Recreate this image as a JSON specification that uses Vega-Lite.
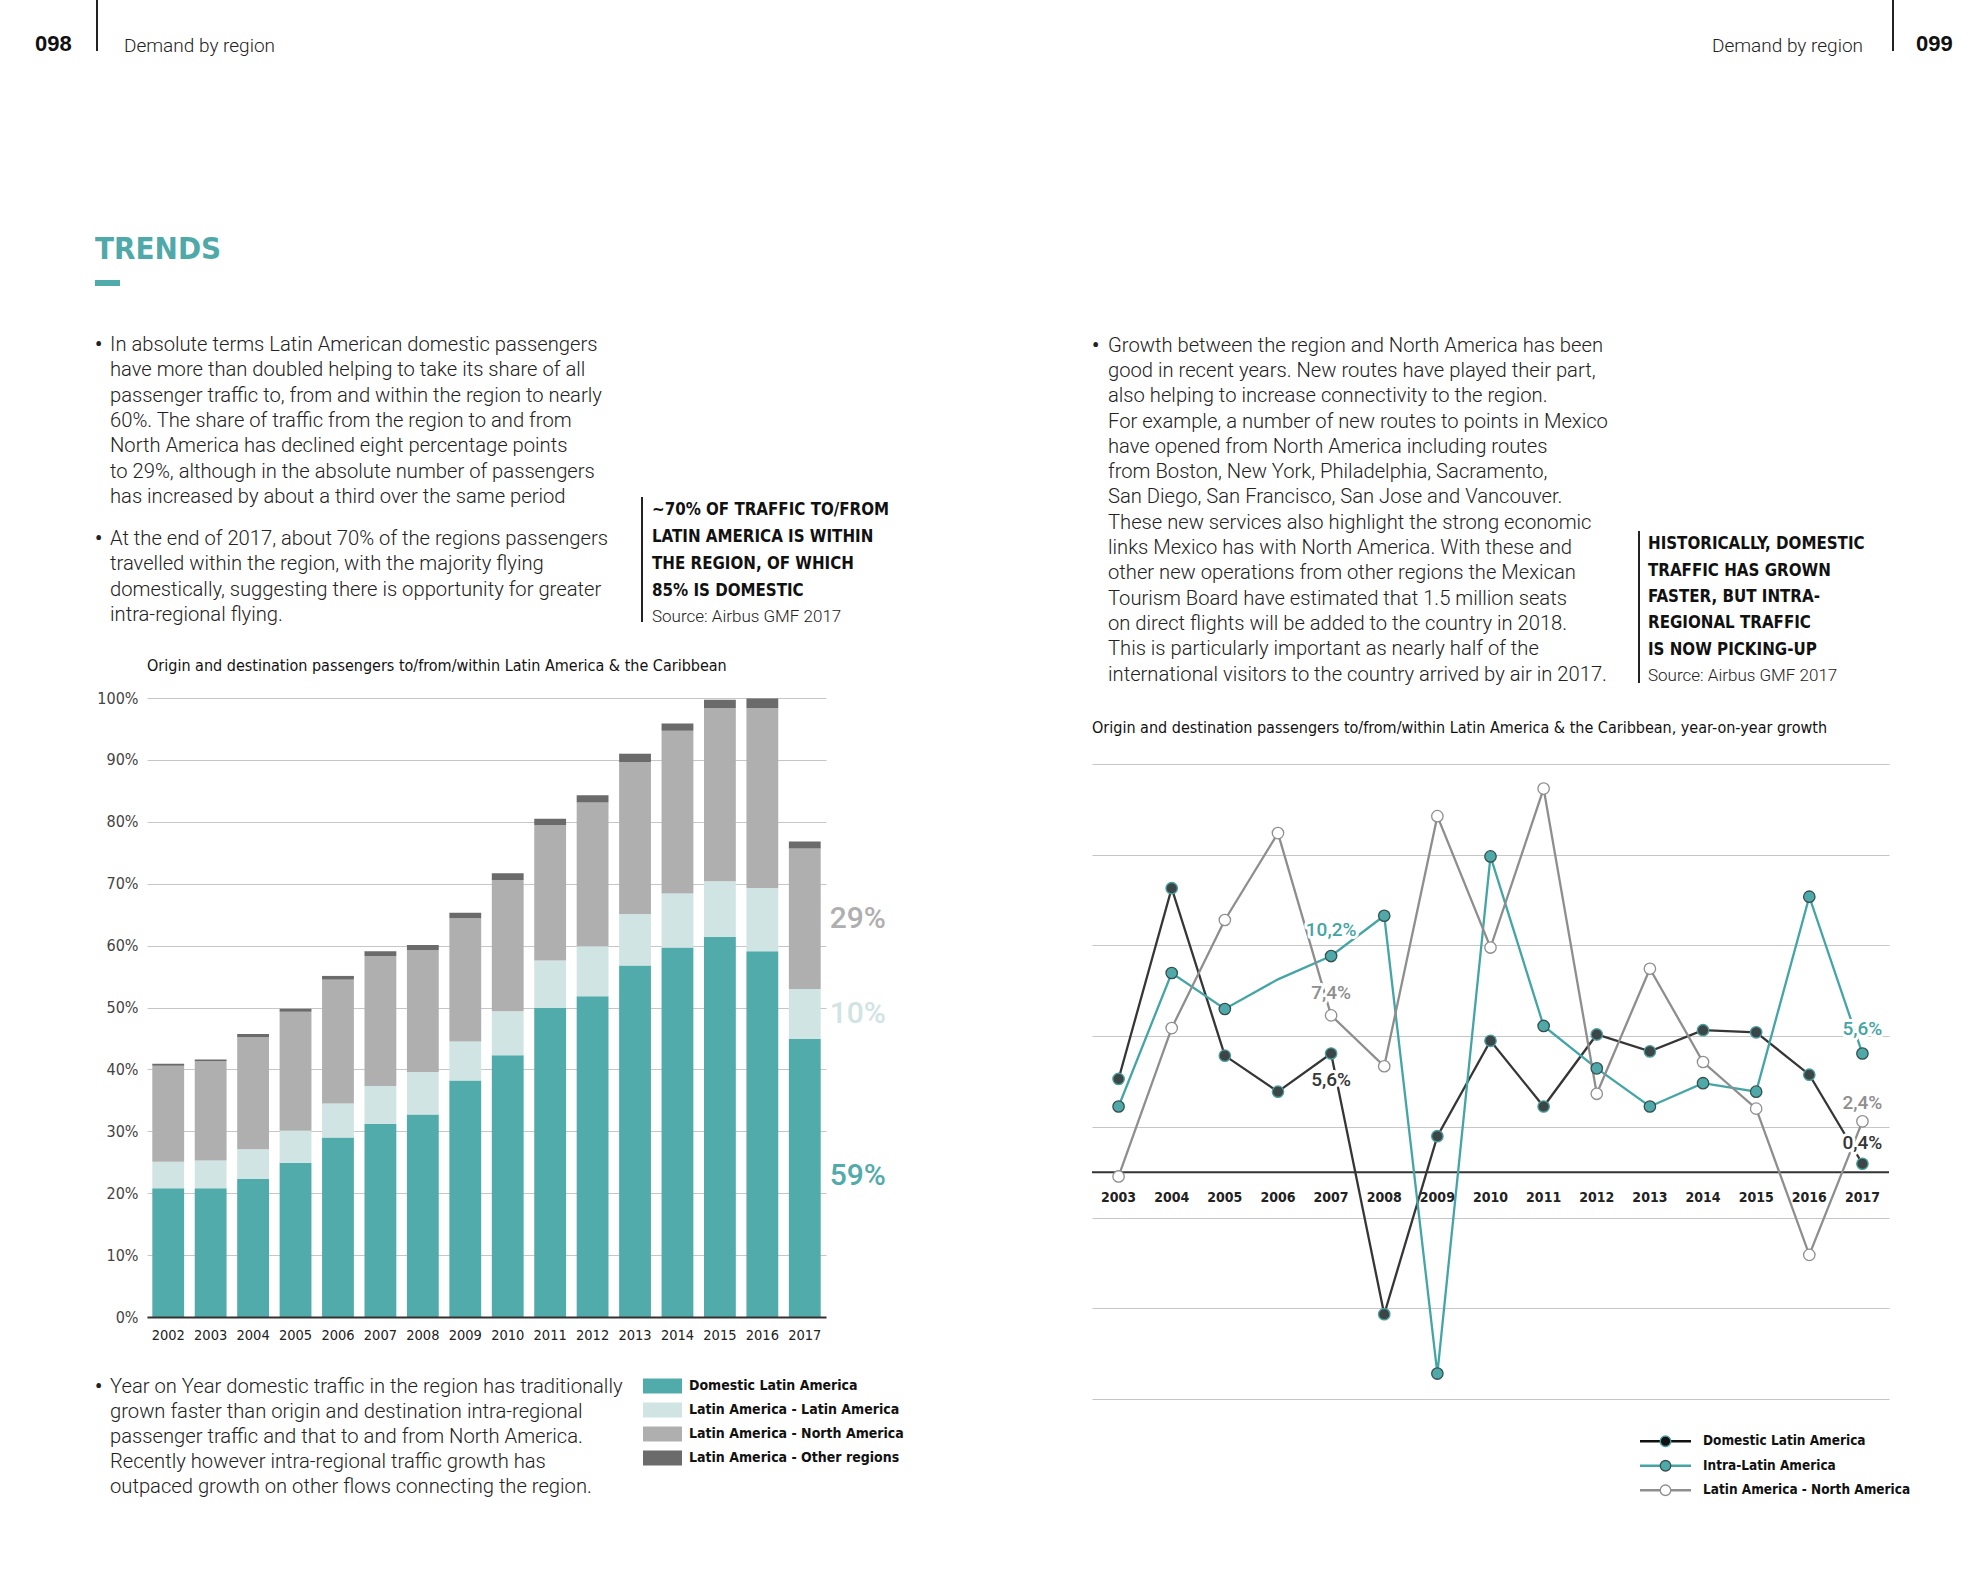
{
"$schema":"https://vega.github.io/schema/vega-lite/v6.json",
"padding":{"left":25,"top":0,"right":0,"bottom":0},
"background":"white",
"config":{"view":{"stroke":null},"concat":{"spacing":0}},
"spacing":0,
"resolve":{"scale":{"color":"independent"}},
"vconcat":[
 {"hconcat":[
   {"width":10,"height":1,"data":{"values":[{}]},"mark":{"type":"rect","opacity":0},"encoding":{}},
   {"width":61,"height":88,"data":{"values":[{"t":"098"}]},"mark":{"type":"text","align":"left","baseline":"middle","font":"Liberation Sans, sans-serif","fontWeight":"bold","fontSize":22,"color":"#111"},"encoding":{"x":{"datum":0,"type":"quantitative","scale":{"domain":[0,1]},"axis":null},"text":{"field":"t"}}},
   {"width":2,"height":51,"data":{"values":[{}]},"mark":{"type":"rect","color":"#222"},"encoding":{}},
   {"width":26,"height":1,"data":{"values":[{}]},"mark":{"type":"rect","opacity":0},"encoding":{}},
   {"width":1739,"height":92,"layer":[
     {"data":{"values":[{"t":"Demand by region"}]},"mark":{"type":"text","align":"left","baseline":"middle","font":"Roboto, sans-serif","fontWeight":300,"fontSize":19,"color":"#222"},"encoding":{"x":{"datum":0,"type":"quantitative","scale":{"domain":[0,1]},"axis":null},"text":{"field":"t"}}},
     {"data":{"values":[{"t":"Demand by region"}]},"mark":{"type":"text","align":"right","baseline":"middle","font":"Roboto, sans-serif","fontWeight":300,"fontSize":19,"color":"#222"},"encoding":{"x":{"datum":1,"type":"quantitative","scale":{"domain":[0,1]},"axis":null},"text":{"field":"t"}}}
   ]},
   {"width":29,"height":1,"data":{"values":[{}]},"mark":{"type":"rect","opacity":0},"encoding":{}},
   {"width":2,"height":51,"data":{"values":[{}]},"mark":{"type":"rect","color":"#222"},"encoding":{}},
   {"width":22,"height":1,"data":{"values":[{}]},"mark":{"type":"rect","opacity":0},"encoding":{}},
   {"width":50,"height":88,"data":{"values":[{"t":"099"}]},"mark":{"type":"text","align":"left","baseline":"middle","font":"Liberation Sans, sans-serif","fontWeight":"bold","fontSize":22,"color":"#111"},"encoding":{"x":{"datum":0,"type":"quantitative","scale":{"domain":[0,1]},"axis":null},"text":{"field":"t"}}}
 ],"spacing":0},
 {"resolve":{"scale":{"color":"independent"}},
  "hconcat":[
   {"width":70,"height":1,"data":{"values":[{}]},"mark":{"type":"rect","opacity":0},"encoding":{}},
   {"resolve":{"scale":{"color":"independent"}},
    "vconcat":[
     {"width":996,"height":133,"data":{"values":[{}]},"mark":{"type":"rect","opacity":0},"encoding":{}},
     {"width":200,"height":50,"data":{"values":[{"t":"TRENDS"}]},"mark":{"type":"text","align":"left","baseline":"middle","font":"Liberation Sans Narrow, DejaVu Sans Condensed, sans-serif","fontWeight":"bold","fontSize":31,"color":"#4FA9A9"},"encoding":{"x":{"datum":0,"type":"quantitative","scale":{"domain":[0,1]},"axis":null},"text":{"field":"t"}}},
     {"width":1,"height":5,"data":{"values":[{}]},"mark":{"type":"rect","opacity":0},"encoding":{}},
     {"width":25,"height":6,"data":{"values":[{}]},"mark":{"type":"rect","color":"#52ABAB"},"encoding":{}},
     {"width":1,"height":46,"data":{"values":[{}]},"mark":{"type":"rect","opacity":0},"encoding":{}},
     {"hconcat":[
       {"vconcat":[
         {"hconcat":[
           {"width":15,"height":25.4,"data":{"values":[{"t":"•"}]},"mark":{"type":"text","align":"left","baseline":"middle","font":"Roboto, sans-serif","fontWeight":"bold","fontSize":20,"color":"#222"},"encoding":{"x":{"datum":0,"type":"quantitative","scale":{"domain":[0,1]},"axis":null},"text":{"field":"t"}}},
           {"width":531,"height":{"step":25.4},"data":{"values":[
             {"i":0,"t":"In absolute terms Latin American domestic passengers"},
             {"i":1,"t":"have more than doubled helping to take its share of all"},
             {"i":2,"t":"passenger traffic to, from and within the region to nearly"},
             {"i":3,"t":"60%. The share of traffic from the region to and from"},
             {"i":4,"t":"North America has declined eight percentage points"},
             {"i":5,"t":"to 29%, although in the absolute number of passengers"},
             {"i":6,"t":"has increased by about a third over the same period"}]},
            "mark":{"type":"text","align":"left","baseline":"middle","font":"Roboto, sans-serif","fontWeight":300,"fontSize":20.2,"color":"#222"},
            "encoding":{"y":{"field":"i","type":"ordinal","axis":null},"x":{"datum":0,"type":"quantitative","scale":{"domain":[0,1]},"axis":null},"text":{"field":"t"}}}
         ],"spacing":0},
         {"width":1,"height":15.3,"data":{"values":[{}]},"mark":{"type":"rect","opacity":0},"encoding":{}},
         {"hconcat":[
           {"width":15,"height":25.4,"data":{"values":[{"t":"•"}]},"mark":{"type":"text","align":"left","baseline":"middle","font":"Roboto, sans-serif","fontWeight":"bold","fontSize":20,"color":"#222"},"encoding":{"x":{"datum":0,"type":"quantitative","scale":{"domain":[0,1]},"axis":null},"text":{"field":"t"}}},
           {"width":531,"height":{"step":25.4},"data":{"values":[
             {"i":0,"t":"At the end of 2017, about 70% of the regions passengers"},
             {"i":1,"t":"travelled within the region, with the majority flying"},
             {"i":2,"t":"domestically, suggesting there is opportunity for greater"},
             {"i":3,"t":"intra-regional flying."}]},
            "mark":{"type":"text","align":"left","baseline":"middle","font":"Roboto, sans-serif","fontWeight":300,"fontSize":20.2,"color":"#222"},
            "encoding":{"y":{"field":"i","type":"ordinal","axis":null},"x":{"datum":0,"type":"quantitative","scale":{"domain":[0,1]},"axis":null},"text":{"field":"t"}}}
         ],"spacing":0}
       ],"spacing":0},
       {"vconcat":[
         {"width":1,"height":164.6,"data":{"values":[{}]},"mark":{"type":"rect","opacity":0},"encoding":{}},
         {"hconcat":[
           {"width":2,"height":125,"data":{"values":[{}]},"mark":{"type":"rect","color":"#222"},"encoding":{}},
           {"width":250,"height":{"step":26.75},"layer":[
             {"data":{"values":[{"i":0,"t":"~70% OF TRAFFIC TO/FROM"},{"i":1,"t":"LATIN AMERICA IS WITHIN"},{"i":2,"t":"THE REGION, OF WHICH"},{"i":3,"t":"85% IS DOMESTIC"}]},
              "mark":{"type":"text","align":"left","baseline":"middle","font":"Liberation Sans Narrow, DejaVu Sans Condensed, sans-serif","fontWeight":"bold","fontSize":16.8,"color":"#111"},
              "encoding":{"y":{"field":"i","type":"ordinal","axis":null},"x":{"datum":0,"type":"quantitative","scale":{"domain":[0,1]},"axis":null},"text":{"field":"t"}}},
             {"data":{"values":[{"i":4,"t":"Source: Airbus GMF 2017"}]},
              "mark":{"type":"text","align":"left","baseline":"middle","font":"Roboto, sans-serif","fontWeight":300,"fontSize":17,"color":"#222"},
              "encoding":{"y":{"field":"i","type":"ordinal","axis":null},"x":{"datum":0,"type":"quantitative","scale":{"domain":[0,1]},"axis":null},"text":{"field":"t"}}}
           ]}
         ],"spacing":9}
       ],"spacing":0}
     ],"spacing":0},
     {"width":1,"height":27,"data":{"values":[{}]},"mark":{"type":"rect","opacity":0},"encoding":{}},
     {"hconcat":[
       {"width":1,"height":1,"data":{"values":[{}]},"mark":{"type":"rect","opacity":0},"encoding":{}},
       {"width":679,"height":619,
        "title":{"text":"Origin and destination passengers to/from/within Latin America & the Caribbean","anchor":"start","frame":"group","font":"Liberation Sans Narrow, DejaVu Sans Condensed, sans-serif","fontSize":16,"fontWeight":"normal","color":"#111","offset":16},
        "layer":[
         {"data":{"values":[
           {"year":"2002","cat":"Domestic Latin America","value":20.8},{"year":"2002","cat":"Latin America - Latin America","value":4.3},{"year":"2002","cat":"Latin America - North America","value":15.5},{"year":"2002","cat":"Latin America - Other regions","value":0.3},
           {"year":"2003","cat":"Domestic Latin America","value":20.8},{"year":"2003","cat":"Latin America - Latin America","value":4.5},{"year":"2003","cat":"Latin America - North America","value":16.0},{"year":"2003","cat":"Latin America - Other regions","value":0.3},
           {"year":"2004","cat":"Domestic Latin America","value":22.3},{"year":"2004","cat":"Latin America - Latin America","value":4.8},{"year":"2004","cat":"Latin America - North America","value":18.1},{"year":"2004","cat":"Latin America - Other regions","value":0.5},
           {"year":"2005","cat":"Domestic Latin America","value":24.9},{"year":"2005","cat":"Latin America - Latin America","value":5.2},{"year":"2005","cat":"Latin America - North America","value":19.2},{"year":"2005","cat":"Latin America - Other regions","value":0.5},
           {"year":"2006","cat":"Domestic Latin America","value":29.0},{"year":"2006","cat":"Latin America - Latin America","value":5.5},{"year":"2006","cat":"Latin America - North America","value":20.0},{"year":"2006","cat":"Latin America - Other regions","value":0.6},
           {"year":"2007","cat":"Domestic Latin America","value":31.2},{"year":"2007","cat":"Latin America - Latin America","value":6.1},{"year":"2007","cat":"Latin America - North America","value":21.0},{"year":"2007","cat":"Latin America - Other regions","value":0.8},
           {"year":"2008","cat":"Domestic Latin America","value":32.7},{"year":"2008","cat":"Latin America - Latin America","value":6.9},{"year":"2008","cat":"Latin America - North America","value":19.7},{"year":"2008","cat":"Latin America - Other regions","value":0.8},
           {"year":"2009","cat":"Domestic Latin America","value":38.2},{"year":"2009","cat":"Latin America - Latin America","value":6.3},{"year":"2009","cat":"Latin America - North America","value":19.9},{"year":"2009","cat":"Latin America - Other regions","value":0.9},
           {"year":"2010","cat":"Domestic Latin America","value":42.3},{"year":"2010","cat":"Latin America - Latin America","value":7.1},{"year":"2010","cat":"Latin America - North America","value":21.2},{"year":"2010","cat":"Latin America - Other regions","value":1.1},
           {"year":"2011","cat":"Domestic Latin America","value":49.9},{"year":"2011","cat":"Latin America - Latin America","value":7.7},{"year":"2011","cat":"Latin America - North America","value":21.9},{"year":"2011","cat":"Latin America - Other regions","value":1.0},
           {"year":"2012","cat":"Domestic Latin America","value":51.8},{"year":"2012","cat":"Latin America - Latin America","value":8.1},{"year":"2012","cat":"Latin America - North America","value":23.2},{"year":"2012","cat":"Latin America - Other regions","value":1.2},
           {"year":"2013","cat":"Domestic Latin America","value":56.8},{"year":"2013","cat":"Latin America - Latin America","value":8.3},{"year":"2013","cat":"Latin America - North America","value":24.5},{"year":"2013","cat":"Latin America - Other regions","value":1.4},
           {"year":"2014","cat":"Domestic Latin America","value":59.7},{"year":"2014","cat":"Latin America - Latin America","value":8.7},{"year":"2014","cat":"Latin America - North America","value":26.3},{"year":"2014","cat":"Latin America - Other regions","value":1.2},
           {"year":"2015","cat":"Domestic Latin America","value":61.4},{"year":"2015","cat":"Latin America - Latin America","value":9.0},{"year":"2015","cat":"Latin America - North America","value":28.0},{"year":"2015","cat":"Latin America - Other regions","value":1.3},
           {"year":"2016","cat":"Domestic Latin America","value":59.1},{"year":"2016","cat":"Latin America - Latin America","value":10.2},{"year":"2016","cat":"Latin America - North America","value":29.1},{"year":"2016","cat":"Latin America - Other regions","value":1.5},
           {"year":"2017","cat":"Domestic Latin America","value":44.9},{"year":"2017","cat":"Latin America - Latin America","value":8.1},{"year":"2017","cat":"Latin America - North America","value":22.7},{"year":"2017","cat":"Latin America - Other regions","value":1.1}
          ]},
          "mark":{"type":"bar"},
          "encoding":{
           "x":{"field":"year","type":"ordinal","title":null,"scale":{"paddingInner":0.25,"paddingOuter":0.125},"axis":{"labelAngle":0,"labelFont":"Liberation Sans Narrow, DejaVu Sans Condensed, sans-serif","labelFontSize":14.5,"labelColor":"#222","labelPadding":11,"ticks":false,"domainColor":"#333","domainWidth":2,"zindex":1}},
           "y":{"field":"value","type":"quantitative","stack":"zero","title":null,"scale":{"domain":[0,100],"nice":false},"axis":{"values":[0,10,20,30,40,50,60,70,80,90,100],"labelExpr":"datum.value + '%'","labelFont":"Liberation Sans Narrow, DejaVu Sans Condensed, sans-serif","labelFontSize":16,"labelColor":"#444","labelPadding":9,"ticks":false,"domain":false,"grid":true,"gridColor":"#c6c6c6","gridWidth":1}},
           "color":{"field":"cat","type":"nominal","scale":{"domain":["Domestic Latin America","Latin America - Latin America","Latin America - North America","Latin America - Other regions"],"range":["#52ABAB","#D0E4E3","#AFAFAF","#6B6B6B"]},"legend":null},
           "order":{"field":"cat","sort":"ascending"}
          }},
         {"data":{"values":[
           {"year":"2017","cat":"Domestic Latin America","mid":22.8,"label":"59%"},
           {"year":"2017","cat":"Latin America - Latin America","mid":49.0,"label":"10%"},
           {"year":"2017","cat":"Latin America - North America","mid":64.3,"label":"29%"}]},
          "mark":{"type":"text","align":"left","baseline":"middle","font":"Roboto, sans-serif","fontWeight":500,"fontSize":30,"dx":9},
          "encoding":{
           "x":{"field":"year","type":"ordinal","bandPosition":1,"title":null},
           "y":{"field":"mid","type":"quantitative","title":null},
           "color":{"field":"cat","type":"nominal","legend":null},
           "text":{"field":"label"}}}
        ]}
     ],"spacing":0},
     {"width":1,"height":31.5,"data":{"values":[{}]},"mark":{"type":"rect","opacity":0},"encoding":{}},
     {"hconcat":[
       {"width":15,"height":25,"data":{"values":[{"t":"•"}]},"mark":{"type":"text","align":"left","baseline":"middle","font":"Roboto, sans-serif","fontWeight":"bold","fontSize":20,"color":"#222"},"encoding":{"x":{"datum":0,"type":"quantitative","scale":{"domain":[0,1]},"axis":null},"text":{"field":"t"}}},
       {"width":531,"height":{"step":25},"data":{"values":[
         {"i":0,"t":"Year on Year domestic traffic in the region has traditionally"},
         {"i":1,"t":"grown faster than origin and destination intra-regional"},
         {"i":2,"t":"passenger traffic and that to and from North America."},
         {"i":3,"t":"Recently however intra-regional traffic growth has"},
         {"i":4,"t":"outpaced growth on other flows connecting the region."}]},
        "mark":{"type":"text","align":"left","baseline":"middle","font":"Roboto, sans-serif","fontWeight":300,"fontSize":20.2,"color":"#222"},
        "encoding":{"y":{"field":"i","type":"ordinal","axis":null},"x":{"datum":0,"type":"quantitative","scale":{"domain":[0,1]},"axis":null},"text":{"field":"t"}}},
       {"width":2,"height":1,"data":{"values":[{}]},"mark":{"type":"rect","opacity":0},"encoding":{}},
       {"hconcat":[
         {"width":39,"height":{"step":24},"data":{"values":[{"c":"Domestic Latin America"},{"c":"Latin America - Latin America"},{"c":"Latin America - North America"},{"c":"Latin America - Other regions"}]},
          "mark":{"type":"rect"},
          "encoding":{"y":{"field":"c","type":"nominal","axis":null,"scale":{"type":"band","paddingInner":0.375,"paddingOuter":0.1875}},"color":{"field":"c","type":"nominal","scale":{"domain":["Domestic Latin America","Latin America - Latin America","Latin America - North America","Latin America - Other regions"],"range":["#52ABAB","#D0E4E3","#AFAFAF","#6B6B6B"]},"legend":null}}},
         {"width":260,"height":{"step":24},"data":{"values":[{"c":"Domestic Latin America"},{"c":"Latin America - Latin America"},{"c":"Latin America - North America"},{"c":"Latin America - Other regions"}]},
          "mark":{"type":"text","align":"left","baseline":"middle","font":"Liberation Sans Narrow, DejaVu Sans Condensed, sans-serif","fontWeight":"bold","fontSize":14,"color":"#111"},
          "encoding":{"y":{"field":"c","type":"nominal","axis":null},"x":{"datum":0,"type":"quantitative","scale":{"domain":[0,1]},"axis":null},"text":{"field":"c"}}}
       ],"spacing":7}
     ],"spacing":0}
   ],"spacing":0},
   {"resolve":{"scale":{"color":"independent"}},
    "vconcat":[
     {"width":797,"height":240.4,"data":{"values":[{}]},"mark":{"type":"rect","opacity":0},"encoding":{}},
     {"hconcat":[
       {"hconcat":[
         {"width":16,"height":25.3,"data":{"values":[{"t":"•"}]},"mark":{"type":"text","align":"left","baseline":"middle","font":"Roboto, sans-serif","fontWeight":"bold","fontSize":20,"color":"#222"},"encoding":{"x":{"datum":0,"type":"quantitative","scale":{"domain":[0,1]},"axis":null},"text":{"field":"t"}}},
         {"width":530,"height":{"step":25.3},"data":{"values":[
           {"i":0,"t":"Growth between the region and North America has been"},
           {"i":1,"t":"good in recent years. New routes have played their part,"},
           {"i":2,"t":"also helping to increase connectivity to the region."},
           {"i":3,"t":"For example, a number of new routes to points in Mexico"},
           {"i":4,"t":"have opened from North America including routes"},
           {"i":5,"t":"from Boston, New York, Philadelphia, Sacramento,"},
           {"i":6,"t":"San Diego, San Francisco, San Jose and Vancouver."},
           {"i":7,"t":"These new services also highlight the strong economic"},
           {"i":8,"t":"links Mexico has with North America. With these and"},
           {"i":9,"t":"other new operations from other regions the Mexican"},
           {"i":10,"t":"Tourism Board have estimated that 1.5 million seats"},
           {"i":11,"t":"on direct flights will be added to the country in 2018."},
           {"i":12,"t":"This is particularly important as nearly half of the"},
           {"i":13,"t":"international visitors to the country arrived by air in 2017."}]},
          "mark":{"type":"text","align":"left","baseline":"middle","font":"Roboto, sans-serif","fontWeight":300,"fontSize":20.2,"color":"#222"},
          "encoding":{"y":{"field":"i","type":"ordinal","axis":null},"x":{"datum":0,"type":"quantitative","scale":{"domain":[0,1]},"axis":null},"text":{"field":"t"}}}
       ],"spacing":0},
       {"vconcat":[
         {"width":1,"height":197.4,"data":{"values":[{}]},"mark":{"type":"rect","opacity":0},"encoding":{}},
         {"hconcat":[
           {"width":2,"height":152,"data":{"values":[{}]},"mark":{"type":"rect","color":"#222"},"encoding":{}},
           {"width":260,"height":{"step":26.4},"layer":[
             {"data":{"values":[{"i":0,"t":"HISTORICALLY, DOMESTIC"},{"i":1,"t":"TRAFFIC HAS GROWN"},{"i":2,"t":"FASTER, BUT INTRA-"},{"i":3,"t":"REGIONAL TRAFFIC"},{"i":4,"t":"IS NOW PICKING-UP"}]},
              "mark":{"type":"text","align":"left","baseline":"middle","font":"Liberation Sans Narrow, DejaVu Sans Condensed, sans-serif","fontWeight":"bold","fontSize":16.8,"color":"#111"},
              "encoding":{"y":{"field":"i","type":"ordinal","axis":null},"x":{"datum":0,"type":"quantitative","scale":{"domain":[0,1]},"axis":null},"text":{"field":"t"}}},
             {"data":{"values":[{"i":5,"t":"Source: Airbus GMF 2017"}]},
              "mark":{"type":"text","align":"left","baseline":"middle","font":"Roboto, sans-serif","fontWeight":300,"fontSize":17,"color":"#222"},
              "encoding":{"y":{"field":"i","type":"ordinal","axis":null},"x":{"datum":0,"type":"quantitative","scale":{"domain":[0,1]},"axis":null},"text":{"field":"t"}}}
           ]}
         ],"spacing":8}
       ],"spacing":0}
     ],"spacing":0},
     {"width":1,"height":29.3,"data":{"values":[{}]},"mark":{"type":"rect","opacity":0},"encoding":{}},
     {"width":797,"height":635,
      "title":{"text":"Origin and destination passengers to/from/within Latin America & the Caribbean, year-on-year growth","anchor":"start","frame":"group","font":"Liberation Sans Narrow, DejaVu Sans Condensed, sans-serif","fontSize":16,"fontWeight":"normal","color":"#111","offset":28},
      "layer":[
       {"data":{"values":[{}]},"mark":{"type":"rule","color":"#333","strokeWidth":2},"encoding":{"y":{"datum":0,"type":"quantitative","title":null}}},
       {"data":{"name":"growth","values":[
         {"year":"2003","series":"Domestic Latin America","value":4.4},{"year":"2004","series":"Domestic Latin America","value":13.4},{"year":"2005","series":"Domestic Latin America","value":5.5},{"year":"2006","series":"Domestic Latin America","value":3.8},{"year":"2007","series":"Domestic Latin America","value":5.6},{"year":"2008","series":"Domestic Latin America","value":-6.7},{"year":"2009","series":"Domestic Latin America","value":1.7},{"year":"2010","series":"Domestic Latin America","value":6.2},{"year":"2011","series":"Domestic Latin America","value":3.1},{"year":"2012","series":"Domestic Latin America","value":6.5},{"year":"2013","series":"Domestic Latin America","value":5.7},{"year":"2014","series":"Domestic Latin America","value":6.7},{"year":"2015","series":"Domestic Latin America","value":6.6},{"year":"2016","series":"Domestic Latin America","value":4.6},{"year":"2017","series":"Domestic Latin America","value":0.4},
         {"year":"2003","series":"Intra-Latin America","value":3.1},{"year":"2004","series":"Intra-Latin America","value":9.4},{"year":"2005","series":"Intra-Latin America","value":7.7},{"year":"2006","series":"Intra-Latin America","value":9.1},{"year":"2007","series":"Intra-Latin America","value":10.2},{"year":"2008","series":"Intra-Latin America","value":12.1},{"year":"2009","series":"Intra-Latin America","value":-9.5},{"year":"2010","series":"Intra-Latin America","value":14.9},{"year":"2011","series":"Intra-Latin America","value":6.9},{"year":"2012","series":"Intra-Latin America","value":4.9},{"year":"2013","series":"Intra-Latin America","value":3.1},{"year":"2014","series":"Intra-Latin America","value":4.2},{"year":"2015","series":"Intra-Latin America","value":3.8},{"year":"2016","series":"Intra-Latin America","value":13.0},{"year":"2017","series":"Intra-Latin America","value":5.6},
         {"year":"2003","series":"Latin America - North America","value":-0.2},{"year":"2004","series":"Latin America - North America","value":6.8},{"year":"2005","series":"Latin America - North America","value":11.9},{"year":"2006","series":"Latin America - North America","value":16.0},{"year":"2007","series":"Latin America - North America","value":7.4},{"year":"2008","series":"Latin America - North America","value":5.0},{"year":"2009","series":"Latin America - North America","value":16.8},{"year":"2010","series":"Latin America - North America","value":10.6},{"year":"2011","series":"Latin America - North America","value":18.1},{"year":"2012","series":"Latin America - North America","value":3.7},{"year":"2013","series":"Latin America - North America","value":9.6},{"year":"2014","series":"Latin America - North America","value":5.2},{"year":"2015","series":"Latin America - North America","value":3.0},{"year":"2016","series":"Latin America - North America","value":-3.9},{"year":"2017","series":"Latin America - North America","value":2.4}
        ]},
        "mark":{"type":"line","strokeWidth":2.3},
        "encoding":{
         "x":{"field":"year","type":"ordinal","axis":null,"scale":{"type":"point","padding":0.5}},
         "y":{"field":"value","type":"quantitative","title":null,"scale":{"domain":[-10.7,19.26],"nice":false,"zero":false},"axis":{"values":[-10.7,-6.42,-2.14,2.14,6.42,10.7,14.98,19.26],"labels":false,"ticks":false,"domain":false,"grid":true,"gridColor":"#c6c6c6","gridWidth":1,"title":null}},
         "color":{"field":"series","type":"nominal","scale":{"domain":["Domestic Latin America","Intra-Latin America","Latin America - North America"],"range":["#363636","#45A5A5","#8E8E8E"]},"legend":null}}},
       {"data":{"name":"growth"},
        "transform":[{"filter":"datum.series == 'Domestic Latin America'"}],
        "mark":{"type":"point","filled":true,"size":130,"strokeWidth":1.3,"opacity":1,"fill":"#3d4646","stroke":"#4a9e9e"},
        "encoding":{"x":{"field":"year","type":"ordinal","axis":null},"y":{"field":"value","type":"quantitative","title":null}}},
       {"data":{"name":"growth"},
        "transform":[{"filter":"datum.series == 'Intra-Latin America' && datum.year != '2006'"}],
        "mark":{"type":"point","filled":true,"size":130,"strokeWidth":1.3,"opacity":1,"fill":"#4FA9A9","stroke":"#355050"},
        "encoding":{"x":{"field":"year","type":"ordinal","axis":null},"y":{"field":"value","type":"quantitative","title":null}}},
       {"data":{"name":"growth"},
        "transform":[{"filter":"datum.series == 'Latin America - North America'"}],
        "mark":{"type":"point","filled":true,"size":130,"strokeWidth":1.3,"opacity":1,"fill":"#ffffff","stroke":"#8E8E8E"},
        "encoding":{"x":{"field":"year","type":"ordinal","axis":null},"y":{"field":"value","type":"quantitative","title":null}}},
       {"data":{"values":[{"year":"2003"},{"year":"2004"},{"year":"2005"},{"year":"2006"},{"year":"2007"},{"year":"2008"},{"year":"2009"},{"year":"2010"},{"year":"2011"},{"year":"2012"},{"year":"2013"},{"year":"2014"},{"year":"2015"},{"year":"2016"},{"year":"2017"}]},
        "mark":{"type":"text","align":"center","baseline":"middle","font":"Liberation Sans Narrow, DejaVu Sans Condensed, sans-serif","fontWeight":"bold","fontSize":14,"color":"#222"},
        "encoding":{"x":{"field":"year","type":"ordinal","axis":null},"y":{"datum":-1.2,"type":"quantitative","title":null},"text":{"field":"year"}}},
       {"data":{"name":"ann","values":[
         {"year":"2007","series":"Intra-Latin America","pos":11.45,"label":"10,2%"},
         {"year":"2007","series":"Latin America - North America","pos":8.45,"label":"7,4%"},
         {"year":"2007","series":"Domestic Latin America","pos":4.35,"label":"5,6%"},
         {"year":"2017","series":"Intra-Latin America","pos":6.76,"label":"5,6%"},
         {"year":"2017","series":"Latin America - North America","pos":3.28,"label":"2,4%"},
         {"year":"2017","series":"Domestic Latin America","pos":1.4,"label":"0,4%"}]},
        "mark":{"type":"text","align":"center","baseline":"middle","font":"Roboto, sans-serif","fontWeight":500,"fontSize":19,"color":"#ffffff","stroke":"#ffffff","strokeWidth":6,"strokeJoin":"round"},
        "encoding":{"x":{"field":"year","type":"ordinal","axis":null},"y":{"field":"pos","type":"quantitative","title":null},"text":{"field":"label"}}},
       {"data":{"name":"ann"},
        "mark":{"type":"text","align":"center","baseline":"middle","font":"Roboto, sans-serif","fontWeight":500,"fontSize":19},
        "encoding":{"x":{"field":"year","type":"ordinal","axis":null},"y":{"field":"pos","type":"quantitative","title":null},"color":{"field":"series","type":"nominal","legend":null},"text":{"field":"label"}}}
      ]},
     {"width":1,"height":29.75,"data":{"values":[{}]},"mark":{"type":"rect","opacity":0},"encoding":{}},
     {"resolve":{"scale":{"color":"independent"}},
      "hconcat":[
       {"width":536,"height":1,"data":{"values":[{}]},"mark":{"type":"rect","opacity":0},"encoding":{}},
       {"width":51,"height":{"step":24.5},"data":{"values":[{"s":"Domestic Latin America"},{"s":"Intra-Latin America"},{"s":"Latin America - North America"}]},
        "layer":[
         {"mark":{"type":"rule","strokeWidth":2.5},"encoding":{"y":{"field":"s","type":"nominal","axis":null,"scale":{"type":"point","padding":0.5}},"color":{"field":"s","type":"nominal","scale":{"domain":["Domestic Latin America","Intra-Latin America","Latin America - North America"],"range":["#111111","#45A5A5","#8E8E8E"]},"legend":null}}},
         {"transform":[{"filter":"datum.s == 'Domestic Latin America'"}],"mark":{"type":"point","filled":true,"size":110,"strokeWidth":1.3,"opacity":1,"fill":"#111111","stroke":"#4a9e9e"},"encoding":{"y":{"field":"s","type":"nominal","axis":null}}},
         {"transform":[{"filter":"datum.s == 'Intra-Latin America'"}],"mark":{"type":"point","filled":true,"size":110,"strokeWidth":1.3,"opacity":1,"fill":"#4FA9A9","stroke":"#355050"},"encoding":{"y":{"field":"s","type":"nominal","axis":null}}},
         {"transform":[{"filter":"datum.s == 'Latin America - North America'"}],"mark":{"type":"point","filled":true,"size":110,"strokeWidth":1.3,"opacity":1,"fill":"#ffffff","stroke":"#8E8E8E"},"encoding":{"y":{"field":"s","type":"nominal","axis":null}}}
        ]},
       {"width":300,"height":{"step":24.5},"data":{"values":[{"s":"Domestic Latin America"},{"s":"Intra-Latin America"},{"s":"Latin America - North America"}]},
        "mark":{"type":"text","align":"left","baseline":"middle","font":"Liberation Sans Narrow, DejaVu Sans Condensed, sans-serif","fontWeight":"bold","fontSize":13.5,"color":"#111"},
        "encoding":{"y":{"field":"s","type":"nominal","axis":null},"x":{"datum":0,"type":"quantitative","scale":{"domain":[0,1]},"axis":null},"text":{"field":"s"}}}
     ],"spacing":10}
   ],"spacing":0}
 ],"spacing":0}
]
}
